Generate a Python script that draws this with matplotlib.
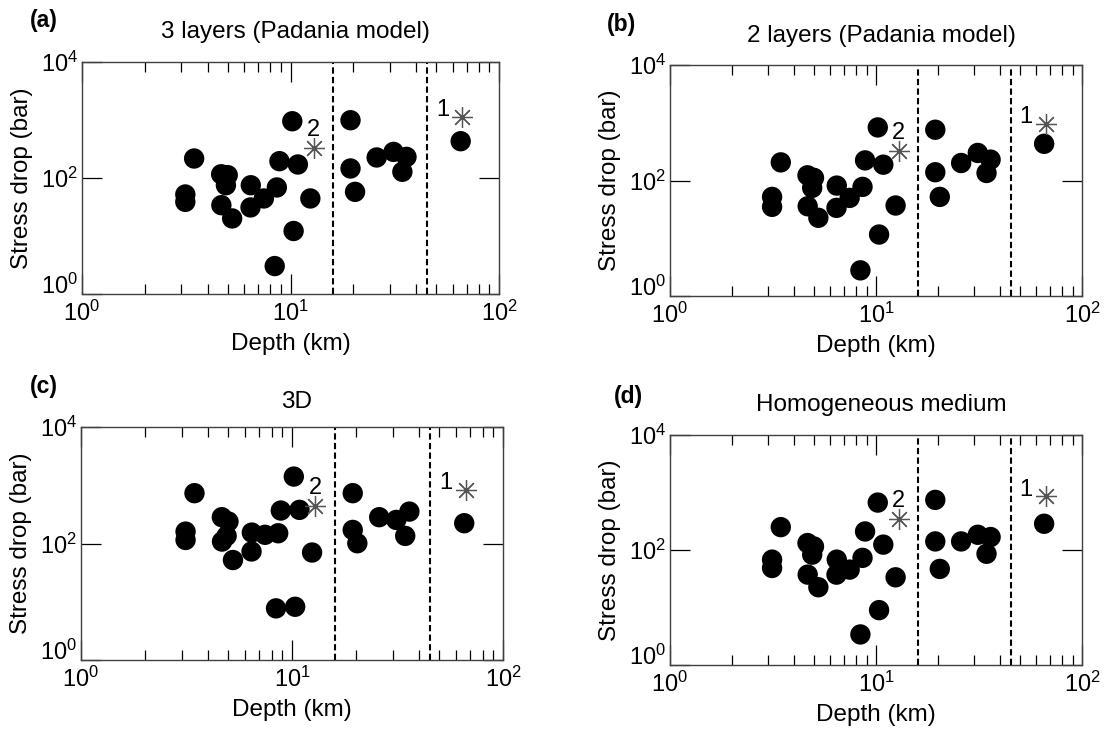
import matplotlib
matplotlib.use("Agg")
import matplotlib.pyplot as plt
from matplotlib.ticker import LogLocator, NullLocator, NullFormatter

plt.rcParams['font.family'] = ['Liberation Sans', 'DejaVu Sans']
plt.rcParams['mathtext.fontset'] = 'custom'
plt.rcParams['mathtext.rm'] = 'Liberation Sans'

# event depths (km), same events in every panel
depth = [10.2, 3.45, 8.85, 10.85, 4.65, 5.0, 4.9, 6.45, 8.6, 3.13, 3.13, 7.45, 4.66,
         6.43, 5.25, 12.45, 10.35, 8.4, 19.4, 25.9, 31.2, 36.0, 34.4, 19.4, 20.4, 65.5]

# stress drop (bar) per velocity model
stress_3layers = [952, 217, 195, 171, 116, 112, 75, 75, 68.7, 52, 38.8, 44.4, 34,
                  31.1, 20.1, 44.4, 12.2, 3.03, 991, 226, 282, 231, 128, 146, 57.7, 431]
stress_2layers = [830, 206, 223, 188, 123, 111, 74.5, 81.6, 77.5, 52, 35, 50, 35.8,
                  33.6, 22.6, 36.9, 11.6, 2.78, 757, 201, 300, 230, 135, 139, 52, 432]
stress_3d = [1410, 731, 368, 378, 283, 238, 135, 154, 150, 160, 115, 141, 108,
             73, 52, 70, 8.2, 7.7, 731, 283, 254, 353, 135, 171, 101, 223]
stress_homog = [668, 250, 210, 124, 132, 115, 83, 68, 73, 68, 48.7, 45.6, 37.3,
                37.3, 22.5, 33.5, 9.0, 3.4, 744, 141, 184, 168, 86, 141, 46.9, 286]

# reference events marked with asterisks (labels 1 and 2)
star_depth = [66.5, 12.9]
star_labels = ['1', '2']
star_3layers = [1130, 330]
star_2layers = [958, 319]
star_3d = [834, 443]
star_homog = [853, 345]

# layer boundaries (km)
boundaries = [16, 45]

titles = ['3 layers (Padania model)', '2 layers (Padania model)', '3D', 'Homogeneous medium']
letters = ['(a)', '(b)', '(c)', '(d)']
stresses = [stress_3layers, stress_2layers, stress_3d, stress_homog]
stars = [star_3layers, star_2layers, star_3d, star_homog]

W, H = 1108, 733
# axes boxes in pixels: left, top, right, bottom
boxes = [(82, 62, 499, 294), (670, 65, 1082, 296),
         (81, 427, 503, 660), (670, 435, 1082, 665)]
letter_pos = [(44, 21), (621, 24), (44, 387), (628, 396)]
title_y = [32, 36, 402, 405]

fig = plt.figure(figsize=(W / 100, H / 100), dpi=100)

for i in range(4):
    l, t, r, b = boxes[i]
    ax = fig.add_axes([l / W, 1 - b / H, (r - l) / W, (b - t) / H])
    ax.set_xscale('log')
    ax.set_yscale('log')

    ax.scatter(depth, stresses[i], s=215, color='black', edgecolors='none', zorder=3)
    ax.plot(star_depth, stars[i], linestyle='none', marker=(8, 2, 0), markersize=15,
            color='#555555', markeredgewidth=0.9, zorder=4)
    for d, v, lab in zip(star_depth, stars[i], star_labels):
        off = (-14, 5) if lab == '1' else (0, 13)
        ax.annotate(lab, (d, v), xytext=off, textcoords='offset points',
                    ha='center', va='center', fontsize=17)

    for x in boundaries:
        ax.axvline(x, color='black', linestyle=(0, (3, 1.6)), linewidth=1.5, zorder=2)

    ax.set_xlim(1, 100)
    ax.set_ylim(1, 1e4)
    ax.set_xticks([1, 10, 100])
    ax.set_xticklabels([r'$\mathdefault{10^{0}}$', r'$\mathdefault{10^{1}}$',
                        r'$\mathdefault{10^{2}}$'])
    ax.xaxis.set_minor_locator(LogLocator(base=10, subs=range(2, 10)))
    ax.xaxis.set_minor_formatter(NullFormatter())
    ax.set_yticks([1, 100, 1e4])
    ylabels = ax.set_yticklabels([r'$\mathdefault{10^{0}}$', r'$\mathdefault{10^{2}}$',
                                  r'$\mathdefault{10^{4}}$'])
    # bottom y label sits on the axis, clear of the x label below it
    ylabels[0].set_verticalalignment('baseline')
    ax.yaxis.set_minor_locator(NullLocator())
    ax.tick_params(which='both', direction='in', top=True, right=True,
                   labelsize=17, width=0.9, color='black')
    ax.tick_params(which='major', length=14.4)
    ax.tick_params(which='minor', length=7.2)
    ax.tick_params(axis='x', pad=5)
    ax.tick_params(axis='y', pad=3)
    for sp in ax.spines.values():
        sp.set_color('#404040')
        sp.set_linewidth(1.0)

    cx = (l + r) / 2
    fig.text((cx + 5) / W, 1 - title_y[i] / H, titles[i], ha='center', va='center',
             fontsize=17.5)
    fig.text(letter_pos[i][0] / W, 1 - letter_pos[i][1] / H, letters[i], ha='center',
             va='center', fontsize=16.5, fontweight='bold')
    fig.text((l - 60) / W, 1 - (t + b) / 2 / H, 'Stress drop (bar)', rotation=90,
             ha='center', va='center', fontsize=17.5)
    fig.text(cx / W, 1 - (b + 50) / H, 'Depth (km)', ha='center', va='center',
             fontsize=17.5)

fig.savefig('out.png', dpi=100)
